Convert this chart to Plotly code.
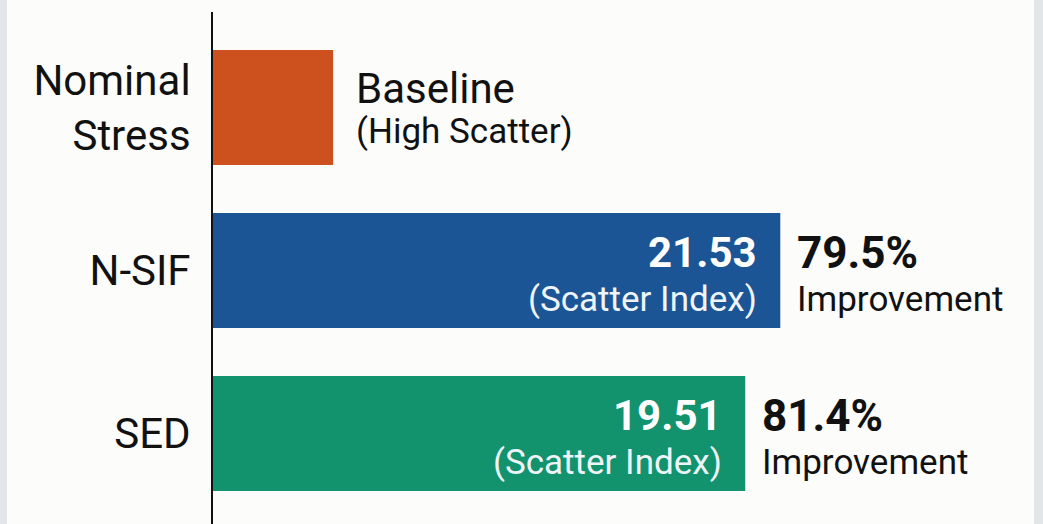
import plotly.graph_objects as go

categories = ["Nominal<br>Stress", "N-SIF", "SED"]
bar_extent = [4.56, 21.53, 20.2]          # drawn bar lengths
scatter_index = [None, "21.53", "19.51"]
improvement = [None, "79.5%", "81.4%"]
bar_colors = ["#cd511f", "#1b5595", "#12936d"]
baseline_text = ["Baseline", "(High Scatter)"]

FONT = "Roboto, sans-serif"
ypos = [0, 1, 2]

fig = go.Figure()
fig.add_trace(go.Bar(
    y=ypos, x=bar_extent, orientation="h",
    marker=dict(color=bar_colors, line=dict(width=0)),
    width=0.706, hoverinfo="skip",
))

ann = []
ann.append(dict(x=bar_extent[0], y=0, xref="x", yref="y", text=baseline_text[0],
                xanchor="left", yanchor="middle", xshift=21, yshift=19, showarrow=False,
                font=dict(family=FONT, size=42, color="#111111")))
ann.append(dict(x=bar_extent[0], y=0, xref="x", yref="y", text=baseline_text[1],
                xanchor="left", yanchor="middle", xshift=21, yshift=-24, showarrow=False,
                font=dict(family=FONT, size=35, color="#111111")))
for i in range(1, 3):
    ann.append(dict(x=bar_extent[i], y=ypos[i], xref="x", yref="y",
                    text="<b>" + scatter_index[i] + "</b>",
                    xanchor="right", yanchor="middle", xshift=-21, yshift=18, showarrow=False,
                    font=dict(family=FONT, size=42, color="#ffffff")))
    ann.append(dict(x=bar_extent[i], y=ypos[i], xref="x", yref="y",
                    text="(Scatter Index)",
                    xanchor="right", yanchor="middle", xshift=-21, yshift=-29, showarrow=False,
                    font=dict(family=FONT, size=35, color="#eef4f8")))
    ann.append(dict(x=bar_extent[i], y=ypos[i], xref="x", yref="y",
                    text="<b>" + improvement[i] + "</b>",
                    xanchor="left", yanchor="middle", xshift=15, yshift=18, showarrow=False,
                    font=dict(family=FONT, size=44, color="#111111")))
    ann.append(dict(x=bar_extent[i], y=ypos[i], xref="x", yref="y",
                    text="Improvement",
                    xanchor="left", yanchor="middle", xshift=15, yshift=-29, showarrow=False,
                    font=dict(family=FONT, size=35, color="#111111")))

fig.update_layout(
    width=1043, height=524,
    margin=dict(l=213, r=0, t=12, b=0),
    paper_bgcolor="#fcfcfa", plot_bgcolor="#fcfcfa",
    showlegend=False,
    annotations=ann,
    shapes=[
        dict(type="rect", xref="paper", yref="paper", x0=-213/830, x1=-206/830, y0=-0.1, y1=1.1,
             fillcolor="#e3e6e9", line=dict(width=0), layer="below"),
        dict(type="rect", xref="paper", yref="paper", x0=(1034-213)/830, x1=1.0, y0=-0.1, y1=1.1,
             fillcolor="#e3e6e9", line=dict(width=0), layer="below"),
    ],
)
fig.update_xaxes(range=[0, 31.5], visible=False, fixedrange=True)
fig.update_yaxes(
    tickvals=ypos, ticktext=categories,
    range=[2.555, -0.586],
    showline=True, linecolor="#111111", linewidth=2,
    showgrid=False, zeroline=False, ticks="",
    ticklabelstandoff=12, fixedrange=True,
    tickfont=dict(family=FONT, size=42, color="#111111"),
)
fig.write_html("out.html", config={"displayModeBar": False},
               post_script="document.body.style.margin='0';")
